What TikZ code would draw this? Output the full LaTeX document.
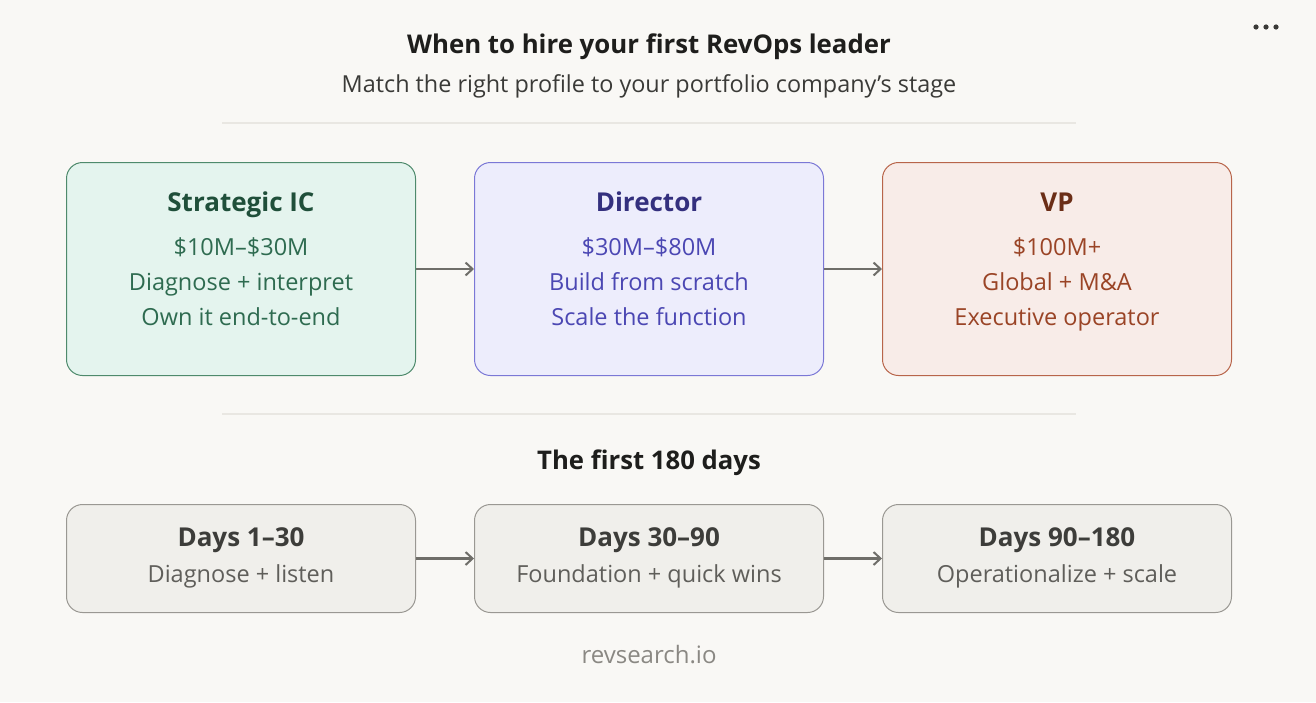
\documentclass[tikz,border=0pt]{standalone}
\usepackage{fontspec}
\setmainfont{Open Sans}
\usetikzlibrary{arrows.meta}
\definecolor{bg}{HTML}{F9F8F5}
\definecolor{sep}{HTML}{E9E7E2}
\definecolor{ink}{HTML}{1E1E1C}
\definecolor{subink}{HTML}{3A3A37}
\definecolor{arr}{HTML}{6F6E69}
\definecolor{gfill}{HTML}{E4F4EE}\definecolor{gline}{HTML}{4E8A6C}\definecolor{gtitle}{HTML}{1F4F3A}\definecolor{gtext}{HTML}{2E6B50}
\definecolor{pfill}{HTML}{EDEDFC}\definecolor{pline}{HTML}{7B78D6}\definecolor{ptitle}{HTML}{34307E}\definecolor{ptext}{HTML}{4B47B3}
\definecolor{rfill}{HTML}{F8ECE8}\definecolor{rline}{HTML}{B8654A}\definecolor{rtitle}{HTML}{6B2E17}\definecolor{rtext}{HTML}{9A4426}
\definecolor{nfill}{HTML}{F0EFEB}\definecolor{nline}{HTML}{9A9893}\definecolor{ntitle}{HTML}{3D3D3A}\definecolor{ntext}{HTML}{5F5E5A}
\definecolor{foot}{HTML}{8A8883}
\tikzset{
  card/.style={rounded corners=16pt, line width=1pt, minimum width=349pt, anchor=north west, inner sep=0pt},
  bigcard/.style={card, minimum height=213pt},
  smallcard/.style={card, minimum height=108pt},
  conn/.style={draw=arr, line width=2.5pt, -{Straight Barb[length=7pt,width=13pt,line width=2pt]}},
  lbl/.style={anchor=base, inner sep=0pt},
  cardtitle/.style={lbl, font=\fontsize{26}{30}\selectfont\bfseries},
  cardtext/.style={lbl, font=\fontsize{23.5}{27}\selectfont},
}
\begin{document}
\begin{tikzpicture}[x=1pt,y=-1pt]
\fill[bg] (0,0) rectangle (1316,702);
\useasboundingbox (0,0) rectangle (1316,702);
% menu dots
\foreach \dx in {1256,1266,1276}{\fill[subink] (\dx,27) circle (2.6pt);}
% header
\node[lbl, text=ink, font=\fontsize{25.8}{30}\selectfont\bfseries] (title) at (649,53) {When to hire your first RevOps leader};
\node[lbl, text=subink, font=\fontsize{23.4}{27}\selectfont] (subtitle) at (649,92) {Match the right profile to your portfolio company’s stage};
\draw[sep, line width=1.5pt] (222,123) -- (1076,123);
% top cards
\node[bigcard, draw=gline, fill=gfill] (ic) at (66,162) {};
\node[bigcard, draw=pline, fill=pfill] (dir) at (474,162) {};
\node[bigcard, draw=rline, fill=rfill] (vp) at (882,162) {};
\node[cardtitle, text=gtitle] (ict) at ([yshift=-49pt]ic.north) {Strategic IC};
\node[cardtext, text=gtext] (ic1) at ([yshift=-93pt]ic.north) {\$10M–\$30M};
\node[cardtext, text=gtext] (ic2) at ([yshift=-128pt]ic.north) {Diagnose + interpret};
\node[cardtext, text=gtext] (ic3) at ([yshift=-163pt]ic.north) {Own it end-to-end};
\node[cardtitle, text=ptitle] (dirt) at ([yshift=-49pt]dir.north) {Director};
\node[cardtext, text=ptext] (dir1) at ([yshift=-93pt]dir.north) {\$30M–\$80M};
\node[cardtext, text=ptext] (dir2) at ([yshift=-128pt]dir.north) {Build from scratch};
\node[cardtext, text=ptext] (dir3) at ([yshift=-163pt]dir.north) {Scale the function};
\node[cardtitle, text=rtitle] (vpt) at ([yshift=-49pt]vp.north) {VP};
\node[cardtext, text=rtext] (vp1) at ([yshift=-93pt]vp.north) {\$100M+};
\node[cardtext, text=rtext] (vp2) at ([yshift=-128pt]vp.north) {Global + M\&A};
\node[cardtext, text=rtext] (vp3) at ([yshift=-163pt]vp.north) {Executive operator};
\draw[conn] (ic.east) -- (dir.west);
\draw[conn] (dir.east) -- (vp.west);
\draw[sep, line width=1.5pt] (222,414) -- (1076,414);
\node[lbl, text=ink, font=\fontsize{25.7}{30}\selectfont\bfseries] (first) at (649,469) {The first 180 days};
% bottom cards
\node[smallcard, draw=nline, fill=nfill] (d1) at (66,504) {};
\node[smallcard, draw=nline, fill=nfill] (d2) at (474,504) {};
\node[smallcard, draw=nline, fill=nfill] (d3) at (882,504) {};
\node[cardtitle, text=ntitle] (d1t) at ([yshift=-42pt]d1.north) {Days 1–30};
\node[cardtext, text=ntext] (d1s) at ([yshift=-78pt]d1.north) {Diagnose + listen};
\node[cardtitle, text=ntitle] (d2t) at ([yshift=-42pt]d2.north) {Days 30–90};
\node[cardtext, text=ntext] (d2s) at ([yshift=-78pt]d2.north) {Foundation + quick wins};
\node[cardtitle, text=ntitle] (d3t) at ([yshift=-42pt]d3.north) {Days 90–180};
\node[cardtext, text=ntext] (d3s) at ([yshift=-78pt]d3.north) {Operationalize + scale};
\draw[conn] (d1.east) -- (d2.west);
\draw[conn] (d2.east) -- (d3.west);
\node[lbl, text=foot, font=\fontsize{24}{27}\selectfont] (footer) at (649,663) {revsearch.io};
\end{tikzpicture}
\end{document}
